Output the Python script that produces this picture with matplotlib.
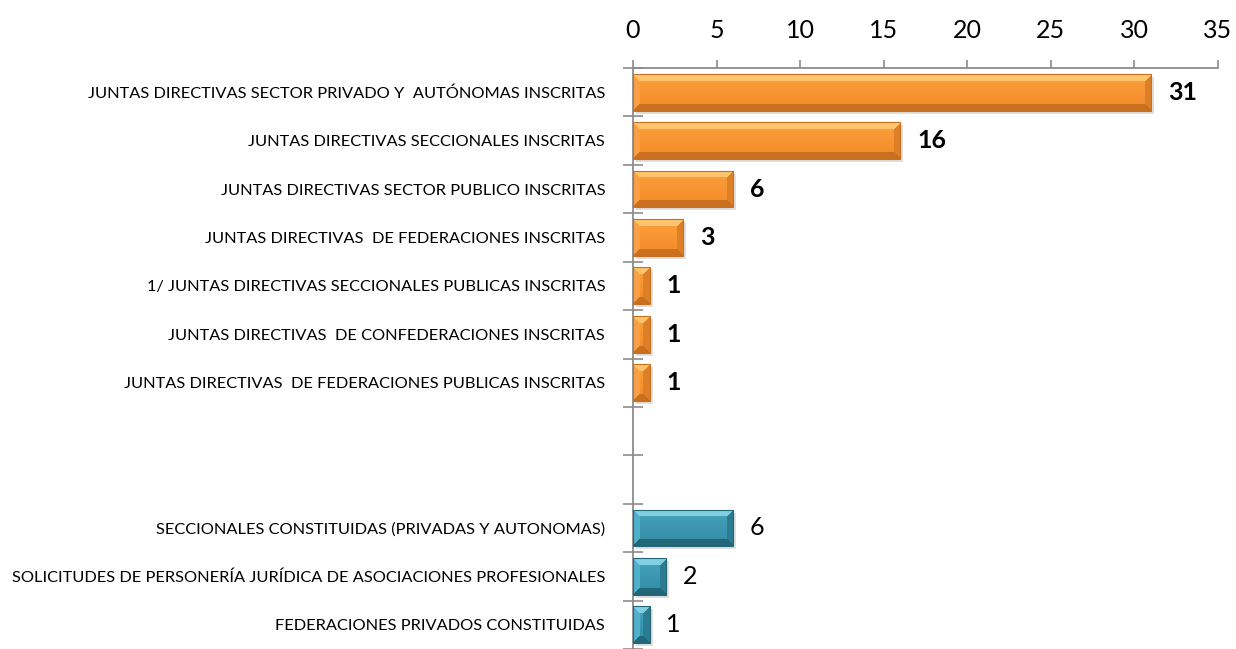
"""Bar chart of inscribed boards and constituted sections (horizontal, bevelled bars)."""

import numpy as np
import matplotlib
matplotlib.use("Agg")
import matplotlib.pyplot as plt
from matplotlib.patches import Rectangle


CATEGORIES = [
    "JUNTAS DIRECTIVAS SECTOR PRIVADO Y  AUTÓNOMAS INSCRITAS",
    "JUNTAS DIRECTIVAS SECCIONALES INSCRITAS",
    "JUNTAS DIRECTIVAS SECTOR PUBLICO INSCRITAS",
    "JUNTAS DIRECTIVAS  DE FEDERACIONES INSCRITAS",
    "1/ JUNTAS DIRECTIVAS SECCIONALES PUBLICAS INSCRITAS",
    "JUNTAS DIRECTIVAS  DE CONFEDERACIONES INSCRITAS",
    "JUNTAS DIRECTIVAS  DE FEDERACIONES PUBLICAS INSCRITAS",
    "",
    "",
    "SECCIONALES CONSTITUIDAS (PRIVADAS Y AUTONOMAS)",
    "SOLICITUDES DE PERSONERÍA JURÍDICA DE ASOCIACIONES PROFESIONALES",
    "FEDERACIONES PRIVADOS CONSTITUIDAS",
]
VALUES = [31, 16, 6, 3, 1, 1, 1, None, None, 6, 2, 1]
GROUPS = ["orange"] * 7 + [None, None] + ["blue"] * 3
X_TICKS = [0, 5, 10, 15, 20, 25, 30, 35]

# bevel palettes: center top, center bottom, top edge, bottom edge, left edge, right edge
PALETTES = {
    "orange": ["#fca03c", "#f38a2a", "#fdc66e", "#c9701f", "#faa043", "#dc7f27"],
    "blue": ["#46a4bd", "#318ba3", "#82cfe4", "#236677", "#4fb0c9", "#2b7b91"],
}
AXIS_GRAY = "#8c8c8c"
FONT = ["Lato", "DejaVu Sans"]


def hex_rgb(c):
    return np.array(matplotlib.colors.to_rgb(c))


def bevel_image(w_px, h_px, pal, bevel=7):
    w_px = max(int(round(w_px)), 2)
    h_px = max(int(round(h_px)), 2)
    rr, cc = np.mgrid[0:h_px, 0:w_px]
    t = rr / max(h_px - 1, 1)
    ctop, cbot, etop, ebot, eleft, eright = [hex_rgb(c) for c in pal]
    img = ctop[None, None, :] * (1 - t[..., None]) + cbot[None, None, :] * t[..., None]
    d_top = rr
    d_bot = h_px - 1 - rr
    d_left = cc
    d_right = w_px - 1 - cc
    dmin = np.minimum(np.minimum(d_top, d_bot), np.minimum(d_left, d_right))
    b = min(bevel, h_px // 2 - 1, w_px // 2)
    edge = dmin < b
    for dist, col in ((d_left, eleft), (d_right, eright), (d_top, etop), (d_bot, ebot)):
        mask = edge & (dist == dmin)
        img[mask] = col
    return img


def main() -> None:
    plt.rcParams["font.family"] = FONT
    fig = plt.figure(figsize=(12.36, 6.49), dpi=100)
    ax = fig.add_axes([633 / 1236, 0.0, (1218 - 633) / 1236, 1 - 68 / 649])

    n = len(CATEGORIES)
    ypos = np.arange(n)
    ax.set_xlim(0, 35)
    ax.set_ylim(n - 0.5, -0.5)

    # axes styling
    for side in ("right", "bottom"):
        ax.spines[side].set_visible(False)
    for side in ("left", "top"):
        ax.spines[side].set_color(AXIS_GRAY)
        ax.spines[side].set_linewidth(1.3)
    ax.xaxis.tick_top()
    ax.set_xticks(X_TICKS)
    ax.set_xticklabels([str(t) for t in X_TICKS])
    ax.tick_params(axis="x", which="major", direction="out", length=6, width=1.2,
                   color=AXIS_GRAY, labelsize=18, pad=13, labelcolor="black")
    ax.set_yticks(ypos)
    ax.set_yticklabels(CATEGORIES)
    ax.set_yticks(np.arange(n + 1) - 0.5, minor=True)
    ax.tick_params(axis="y", which="major", length=0, pad=20, labelsize=11.8)
    ax.tick_params(axis="y", which="minor", direction="inout", length=14, width=1.2,
                   color=AXIS_GRAY)

    fig.canvas.draw()
    height = 0.76
    for y, v, g in zip(ypos, VALUES, GROUPS):
        if v is None:
            continue
        y0, y1 = y - height / 2, y + height / 2
        p0 = ax.transData.transform((0, y1))
        p1 = ax.transData.transform((v, y0))
        w_px = abs(p1[0] - p0[0])
        h_px = abs(p1[1] - p0[1])
        # soft drop shadow
        dx = 3 * 35 / ax.bbox.width
        dy = 3 * n / ax.bbox.height
        ax.add_patch(Rectangle((dx, y0 + dy), v, height, facecolor="#000000",
                               alpha=0.12, edgecolor="none", zorder=1))
        bar = ax.barh(y, v, height=height, color=PALETTES[g][0], zorder=2)[0]
        img = bevel_image(w_px, h_px, PALETTES[g])
        im = ax.imshow(img, extent=[0, v, y1, y0], origin="upper", aspect="auto",
                       interpolation="nearest", zorder=3)
        im.set_clip_path(bar)
        ax.add_patch(Rectangle((0, y0), v, height, facecolor="none",
                               edgecolor=PALETTES[g][3], linewidth=0.8, zorder=4))
        bold = g == "orange"
        ax.annotate(str(v), (v, y), xytext=(12, 0), textcoords="offset points",
                    ha="left", va="center", fontsize=18,
                    fontweight="bold" if bold else "normal", color="black")

    ax.set_xlim(0, 35)
    ax.set_ylim(n - 0.5, -0.5)
    fig.savefig("out.png", dpi=100)
    plt.close(fig)


if __name__ == "__main__":
    main()
